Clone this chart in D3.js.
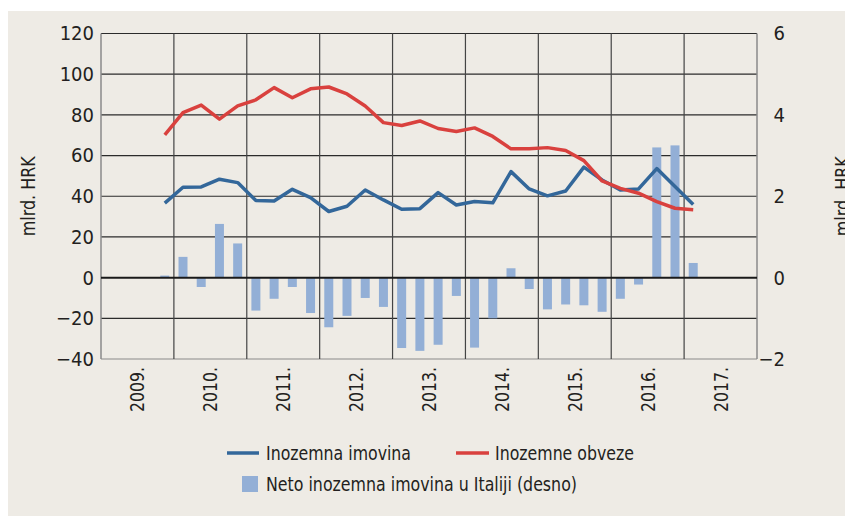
<!DOCTYPE html>
<html>
<head>
<meta charset="utf-8">
<script src="https://cdn.jsdelivr.net/npm/d3@7"></script>
<style>
  body { margin: 0; background: #fff; }
  text { font-family: "Liberation Sans Narrow", "Arial Narrow", "DejaVu Sans Condensed", sans-serif; fill: #231f20; }
</style>
</head>
<body>
<script>
// quarterly data, 2009 Q4 .. 2017 Q1
var quarters = ["2009Q4",
  "2010Q1","2010Q2","2010Q3","2010Q4",
  "2011Q1","2011Q2","2011Q3","2011Q4",
  "2012Q1","2012Q2","2012Q3","2012Q4",
  "2013Q1","2013Q2","2013Q3","2013Q4",
  "2014Q1","2014Q2","2014Q3","2014Q4",
  "2015Q1","2015Q2","2015Q3","2015Q4",
  "2016Q1","2016Q2","2016Q3","2016Q4",
  "2017Q1"];

// Inozemna imovina (left axis)
var imovina = [36.6,
  44.4, 44.6, 48.4, 46.7,
  37.9, 37.7, 43.4, 39.3,
  32.5, 35.1, 43.1, 38.2,
  33.6, 33.9, 41.8, 35.7,
  37.4, 36.8, 52.1, 43.6,
  40.2, 42.6, 54.3, 48.0,
  43.1, 43.6, 53.6, 44.8,
  35.9];

// Inozemne obveze (left axis)
var obveze = [70.2,
  81.1, 84.8, 77.9, 84.4,
  87.4, 93.4, 88.4, 92.8,
  93.7, 90.3, 84.4, 76.2,
  74.8, 77.0, 73.3, 71.8,
  73.6, 69.4, 63.3, 63.3,
  63.9, 62.5, 57.5, 47.5,
  43.9, 41.5, 37.4, 34.1,
  33.4];

// Neto inozemna imovina u Italiji (right axis)
var neto = [0.05,
  0.51, -0.23, 1.32, 0.84,
  -0.81, -0.52, -0.23, -0.87,
  -1.22, -0.94, -0.5, -0.72,
  -1.73, -1.8, -1.65, -0.45,
  -1.72, -1.0, 0.23, -0.28,
  -0.78, -0.66, -0.68, -0.84,
  -0.52, -0.17, 3.2, 3.25,
  0.36];

var years = [2009, 2010, 2011, 2012, 2013, 2014, 2015, 2016, 2017];
var leftTicks = [-40, -20, 0, 20, 40, 60, 80, 100, 120];
var rightTicks = [-2, 0, 2, 4, 6];

var W = 845, H = 516;
var plot = {left: 101, right: 757, top: 33.5, bottom: 359};

var svg = d3.select("body").append("svg")
  .attr("width", W).attr("height", H);

// panel background
svg.append("rect")
  .attr("x", 8).attr("y", 11)
  .attr("width", W - 8).attr("height", H - 11)
  .attr("fill", "#eeebe5");

// scales
var x = d3.scaleLinear().domain([2009, 2018]).range([plot.left, plot.right]);
var yL = d3.scaleLinear().domain([-40, 120]).range([plot.bottom, plot.top]);
var yR = d3.scaleLinear().domain([-2, 6]).range([plot.bottom, plot.top]);

function qx(q) {
  var yr = +q.slice(0, 4), n = +q.slice(5);
  return x(yr + (n - 0.5) / 4);
}

var g = svg.append("g");

// horizontal grid
g.selectAll(".hgrid")
  .data(leftTicks.filter(function(d) { return d !== 0; }))
  .enter().append("line")
  .attr("x1", plot.left).attr("x2", plot.right)
  .attr("y1", function(d) { return yL(d); })
  .attr("y2", function(d) { return yL(d); })
  .attr("stroke", function(d) { return d === -40 ? "#8a8a8a" : "#2b2b2b"; })
  .attr("stroke-width", 1.2);

// vertical grid (year boundaries)
g.selectAll(".vgrid")
  .data(years.slice(1))
  .enter().append("line")
  .attr("x1", function(d) { return x(d); })
  .attr("x2", function(d) { return x(d); })
  .attr("y1", plot.top).attr("y2", plot.bottom)
  .attr("stroke", "#444")
  .attr("stroke-width", 1.2);

// left / right frame
g.append("line").attr("x1", plot.left).attr("x2", plot.left)
  .attr("y1", plot.top).attr("y2", plot.bottom)
  .attr("stroke", "#8a8a8a").attr("stroke-width", 1.5);
g.append("line").attr("x1", plot.right).attr("x2", plot.right)
  .attr("y1", plot.top).attr("y2", plot.bottom)
  .attr("stroke", "#8a8a8a").attr("stroke-width", 1.5);

// bars
var bw = 9;
g.selectAll(".bar")
  .data(neto)
  .enter().append("rect")
  .attr("x", function(d, i) { return qx(quarters[i]) - bw / 2; })
  .attr("y", function(d) { return d >= 0 ? yR(d) : yR(0); })
  .attr("width", bw)
  .attr("height", function(d) { return Math.abs(yR(d) - yR(0)); })
  .attr("fill", "#93afd6");

// zero line
g.append("line")
  .attr("x1", plot.left).attr("x2", plot.right)
  .attr("y1", yL(0)).attr("y2", yL(0))
  .attr("stroke", "#1a1a1a").attr("stroke-width", 2);

// lines
var line = d3.line()
  .x(function(d, i) { return qx(quarters[i]); })
  .y(function(d) { return yL(d); });

g.append("path").datum(imovina)
  .attr("d", line)
  .attr("fill", "none")
  .attr("stroke", "#33679a")
  .attr("stroke-width", 3.5)
  .attr("stroke-linejoin", "round");

g.append("path").datum(obveze)
  .attr("d", line)
  .attr("fill", "none")
  .attr("stroke", "#d9413e")
  .attr("stroke-width", 3.5)
  .attr("stroke-linejoin", "round");

// left axis
var axL = svg.append("g")
  .attr("transform", "translate(" + plot.left + ",0)")
  .call(d3.axisLeft(yL).tickValues(leftTicks).tickSize(0).tickPadding(7));
axL.select(".domain").remove();
axL.selectAll("text").style("font-size", "20px");

// right axis
var axR = svg.append("g")
  .attr("transform", "translate(" + plot.right + ",0)")
  .call(d3.axisRight(yR).tickValues(rightTicks).tickSize(0).tickPadding(0));
axR.select(".domain").remove();
axR.selectAll("text")
  .attr("x", 28)
  .attr("text-anchor", "end")
  .style("font-size", "20px");

// year labels (rotated)
svg.selectAll(".year")
  .data(years)
  .enter().append("text")
  .attr("transform", function(d) {
    return "translate(" + x(d + 0.5) + "," + (plot.bottom + 8) + ") rotate(-90)";
  })
  .attr("dy", "0.35em")
  .attr("text-anchor", "end")
  .attr("textLength", 45)
  .attr("lengthAdjust", "spacingAndGlyphs")
  .style("font-size", "20px")
  .text(function(d) { return d + "."; });

// axis titles
svg.append("text")
  .attr("transform", "translate(35," + ((plot.top + plot.bottom) / 2) + ") rotate(-90)")
  .attr("text-anchor", "middle")
  .attr("textLength", 80)
  .attr("lengthAdjust", "spacingAndGlyphs")
  .style("font-size", "19px")
  .text("mlrd. HRK");

svg.append("text")
  .attr("transform", "translate(849," + ((plot.top + plot.bottom) / 2) + ") rotate(-90)")
  .attr("text-anchor", "middle")
  .attr("textLength", 80)
  .attr("lengthAdjust", "spacingAndGlyphs")
  .style("font-size", "19px")
  .text("mlrd. HRK");

// legend
var leg = svg.append("g").style("font-size", "20px");
leg.append("line").attr("x1", 227).attr("x2", 259).attr("y1", 453).attr("y2", 453)
  .attr("stroke", "#33679a").attr("stroke-width", 3.5);
leg.append("text").attr("x", 266).attr("y", 453).attr("dy", "0.35em")
  .attr("textLength", 145).attr("lengthAdjust", "spacingAndGlyphs")
  .text("Inozemna imovina");
leg.append("line").attr("x1", 456).attr("x2", 489).attr("y1", 453).attr("y2", 453)
  .attr("stroke", "#d9413e").attr("stroke-width", 3.5);
leg.append("text").attr("x", 495).attr("y", 453).attr("dy", "0.35em")
  .attr("textLength", 139).attr("lengthAdjust", "spacingAndGlyphs")
  .text("Inozemne obveze");
leg.append("rect").attr("x", 242).attr("y", 476).attr("width", 16).attr("height", 16)
  .attr("fill", "#93afd6");
leg.append("text").attr("x", 266).attr("y", 484).attr("dy", "0.35em")
  .attr("textLength", 311).attr("lengthAdjust", "spacingAndGlyphs")
  .text("Neto inozemna imovina u Italiji (desno)");
</script>
</body>
</html>
